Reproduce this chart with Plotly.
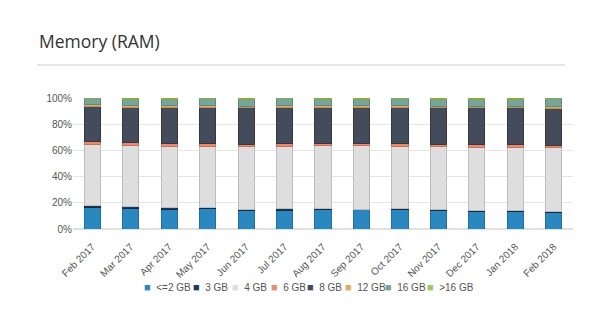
import plotly.graph_objects as go

months = ["Feb 2017", "Mar 2017", "Apr 2017", "May 2017", "Jun 2017", "Jul 2017",
          "Aug 2017", "Sep 2017", "Oct 2017", "Nov 2017", "Dec 2017", "Jan 2018", "Feb 2018"]

ram_le2 = [16.7, 16.0, 15.2, 15.4, 14.4, 14.4, 14.7, 14.7, 14.7, 13.9, 13.4, 13.4, 12.9]
ram_3 = [1.3, 1.0, 1.0, 1.1, 0.8, 1.0, 0.7, 0.5, 0.7, 0.8, 1.0, 0.8, 0.5]
ram_4 = [46.3, 46.5, 46.6, 46.5, 47.6, 47.4, 48.1, 48.3, 47.9, 48.1, 48.1, 48.3, 48.6]
ram_6 = [2.3, 2.6, 2.3, 2.6, 2.0, 2.3, 2.1, 2.1, 2.0, 2.0, 2.1, 2.1, 1.8]
ram_8 = [27.1, 26.8, 27.6, 27.3, 27.6, 27.6, 27.3, 27.3, 27.6, 27.6, 27.8, 27.8, 28.4]
ram_12 = [1.0, 1.0, 1.2, 1.0, 1.0, 1.2, 1.0, 1.3, 1.3, 1.0, 1.3, 1.3, 1.2]
ram_16 = [4.8, 5.3, 5.3, 5.6, 5.6, 5.6, 5.1, 5.0, 5.3, 5.8, 5.5, 5.5, 6.1]
ram_gt16 = [0.5, 0.8, 0.8, 0.5, 1.0, 0.5, 1.0, 0.8, 0.5, 0.8, 0.8, 0.8, 0.5]

series_names = ["<=2 GB", "3 GB", "4 GB", "6 GB", "8 GB", "12 GB", "16 GB", ">16 GB"]
series_values = [ram_le2, ram_3, ram_4, ram_6, ram_8, ram_12, ram_16, ram_gt16]
fill_colors = ["#2a87bf", "#203a5c", "#dedede", "#e98b70", "#444b5a", "#e2ac62", "#76a59c", "#a3c65c"]
line_colors = ["#1f6f9f", "#17293f", "#bdbdbd", "#d06f55", "#333846", "#c89047", "#5e8a82", "#88aa45"]

# legend item left positions (pixels in page)
legend_px = [142, 191, 230, 269, 305, 343, 383, 425]
L, R, T, B = 73, 27, 98, 94
PW, PH = 600 - L - R, 323 - T - B

fig = go.Figure()
for name, vals, fc, lc in zip(series_names, series_values, fill_colors, line_colors):
    fig.add_trace(go.Bar(x=months, y=vals, name=name, showlegend=False,
                         marker=dict(color=fc, line=dict(color=lc, width=1))))

annotations = [dict(text="Memory (RAM)", xref="paper", yref="paper",
                    x=(37 - L) / PW, y=1 + (T - 41) / PH, xanchor="left", yanchor="middle",
                    showarrow=False,
                    font=dict(family="Open Sans, sans-serif", size=17.5, color="#333"))]
for name, fc, px in zip(series_names, fill_colors, legend_px):
    label = name.replace("<", "&lt;").replace(">", "&gt;")
    annotations.append(dict(
        text=f"<span style='color:{fc};font-size:11px'>■</span>&nbsp;&nbsp;{label}",
        xref="paper", yref="paper", x=(px - L) / PW, y=(T + PH - 287) / PH,
        xanchor="left", yanchor="middle", showarrow=False,
        font=dict(family="Liberation Sans, Arial, sans-serif", size=10, color="#555")))

fig.update_layout(
    barmode="stack",
    bargap=0.58,
    width=600, height=323,
    margin=dict(l=L, r=R, t=T, b=B),
    paper_bgcolor="white", plot_bgcolor="white",
    font=dict(family="Liberation Sans, Arial, sans-serif", size=10, color="#555"),
    showlegend=False,
    xaxis=dict(type="category", tickangle=-45, showgrid=False, showline=False,
               ticks="outside", ticklen=7, tickcolor="rgba(0,0,0,0)",
               tickfont=dict(size=10, color="#555")),
    yaxis=dict(range=[0, 100], tickvals=[0, 20, 40, 60, 80, 100],
               ticktext=["0%", "20%", "40%", "60%", "80%", "100%"],
               showgrid=True, gridcolor="#e6e6e6", gridwidth=1, zeroline=True,
               zerolinecolor="#e0e0e0", tickfont=dict(size=10, color="#555")),
    shapes=[dict(type="line", xref="paper", yref="paper", x0=(37 - L) / PW, x1=(565 - L) / PW,
                 y0=1 + (T - 65) / PH, y1=1 + (T - 65) / PH, line=dict(color="#cccccc", width=1))],
    annotations=annotations,
)

fig.write_html("out.html")
